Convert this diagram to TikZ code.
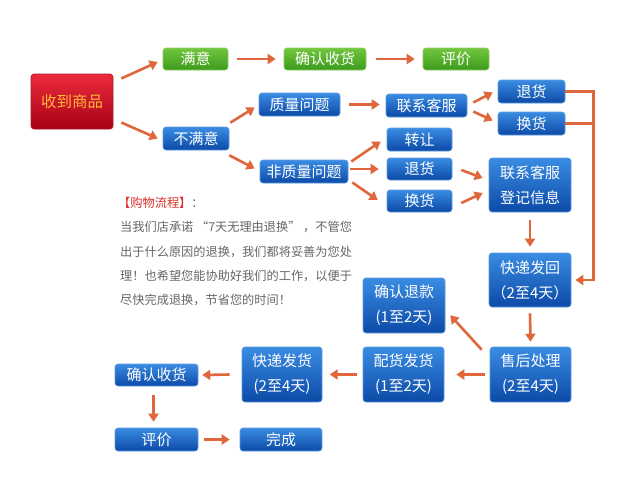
\documentclass[tikz,border=0pt]{standalone}
\usepackage{fontspec}
\newfontfamily\cjk{Noto Sans CJK SC}
\usetikzlibrary{arrows.meta,calc}
\definecolor{btop}{HTML}{3A8CE2}
\definecolor{bbot}{HTML}{0C4AA8}
\definecolor{bdraw}{HTML}{5C9BE0}
\definecolor{gtop}{HTML}{72C63E}
\definecolor{gbot}{HTML}{3C9A1C}
\definecolor{gdraw}{HTML}{8CD060}
\definecolor{rtop}{HTML}{EC2A3C}
\definecolor{rbot}{HTML}{A80016}
\definecolor{rtext}{HTML}{FFB83A}
\definecolor{arrc}{HTML}{E0663C}
\definecolor{ptext}{HTML}{666666}
\definecolor{ptitle}{HTML}{D8302A}
\tikzset{
  basebox/.style={rounded corners=3pt, inner sep=0pt, align=center, line width=0.6pt,
    font=\cjk\fontsize{15}{25}\selectfont},
  bluebox/.style={basebox, top color=btop, bottom color=bbot, draw=bdraw, text=white},
  greenbox/.style={basebox, top color=gtop, bottom color=gbot, draw=gdraw, text=white},
  redbox/.style={basebox, top color=rtop, bottom color=rbot, draw=rtop!70!black, text=rtext,
    font=\cjk\fontsize{15.5}{18}\selectfont},
  arr/.style={draw=arrc, line width=2.6pt, -{Triangle[length=8pt,width=10pt]}},
  brk/.style={draw=arrc, line width=2.6pt},
  para/.style={anchor=west, inner sep=0pt, text=ptext, font=\cjk\fontsize{12.2}{14}\selectfont}
}
\begin{document}
\begin{tikzpicture}[x=1pt,y=-1pt]
\useasboundingbox[fill=white] (0,0) rectangle (620,498);
% nodes
\node[redbox, minimum width=82pt, minimum height=55pt] (recv) at (72,101.5) {收到商品};
\node[greenbox, minimum width=65pt, minimum height=22pt] (sat) at (195.5,59) {满意};
\node[greenbox, minimum width=82pt, minimum height=22pt] (conf1) at (325,59) {确认收货};
\node[greenbox, minimum width=66pt, minimum height=22pt] (eval1) at (456,59) {评价};
\node[bluebox, minimum width=66pt, minimum height=23pt] (unsat) at (196,138.5) {不满意};
\node[bluebox, minimum width=81pt, minimum height=23pt] (qual) at (299.5,104.5) {质量问题};
\node[bluebox, minimum width=81pt, minimum height=23pt] (cs1) at (426.5,105.5) {联系客服};
\node[bluebox, minimum width=67pt, minimum height=23pt] (ret1) at (531.5,91.5) {退货};
\node[bluebox, minimum width=67pt, minimum height=23pt] (exc1) at (531.5,123.5) {换货};
\node[bluebox, minimum width=65pt, minimum height=23pt] (trans) at (419.5,139.5) {转让};
\node[bluebox, minimum width=88pt, minimum height=23pt] (nonq) at (304,171.5) {非质量问题};
\node[bluebox, minimum width=65pt, minimum height=22pt] (ret2) at (419.5,169) {退货};
\node[bluebox, minimum width=65pt, minimum height=22pt] (exc2) at (419.5,201) {换货};
\node[bluebox, minimum width=82pt, minimum height=54pt] (cs2) at (530,185) {联系客服\\登记信息};
\node[bluebox, minimum width=82pt, minimum height=54pt] (exp1) at (530,280) {快递发回\\（2至4天）};
\node[bluebox, minimum width=82pt, minimum height=55pt] (refund) at (404,305.5) {确认退款\\(1至2天)};
\node[bluebox, minimum width=81pt, minimum height=55pt] (after) at (530.5,374.5) {售后处理\\(2至4天)};
\node[bluebox, minimum width=81pt, minimum height=55pt] (dist) at (403.5,374.5) {配货发货\\(1至2天)};
\node[bluebox, minimum width=80pt, minimum height=55pt] (exp2) at (282,374.5) {快递发货\\(2至4天)};
\node[bluebox, minimum width=83pt, minimum height=22pt] (conf2) at (156.5,375) {确认收货};
\node[bluebox, minimum width=83pt, minimum height=23pt] (eval2) at (156.5,439.5) {评价};
\node[bluebox, minimum width=82pt, minimum height=23pt] (done) at (281,439.5) {完成};
% paragraph
\node[para] (p0) at (118,203) {\textcolor{ptitle}{【购物流程】}：};
\node[para] (p1) at (120,227) {当我们店承诺 “7天无理由退换” ，不管您};
\node[para] (p2) at (120,252) {出于什么原因的退换，我们都将妥善为您处};
\node[para] (p3) at (120,276) {理！也希望您能协助好我们的工作，以便于};
\node[para] (p4) at (120,300) {尽快完成退换，节省您的时间！};
% arrows
\draw[arr] ($(recv.east)+(8,-23)$) -- ($(sat.west)+(-5,3)$);
\draw[arr] ($(recv.east)+(8,21)$) -- ($(unsat.west)+(-5,0)$);
\draw[arr] ($(sat.east)+(9,0)$) -- ($(conf1.west)+(-8,0)$);
\draw[arr] ($(conf1.east)+(10,0)$) -- ($(eval1.west)+(-8,0)$);
\draw[arr] ($(unsat.north east)+(1,-4)$) -- ($(qual.west)+(-4,3)$);
\draw[arr] ($(unsat.south east)+(0,5)$) -- ($(nonq.west)+(-5,-3)$);
\draw[arr] ($(qual.east)+(9,0)$) -- ($(cs1.west)+(-6,-1)$);
\draw[arr] ($(cs1.east)+(6,-3)$) -- ($(ret1.west)+(-5,1)$);
\draw[arr] ($(cs1.east)+(6,6)$) -- ($(exc1.west)+(-5,-3)$);
\draw[arr] ($(nonq.east)+(3,-10)$) -- ($(trans.west)+(-6,2)$);
\draw[arr] ($(nonq.east)+(2,-2.5)$) -- ($(ret2.west)+(-8,0)$);
\draw[arr] ($(nonq.east)+(4,11)$) -- ($(exc2.west)+(-9,-1)$);
\draw[arr] ($(ret2.east)+(9,1)$) -- ($(cs2.west)+(-6,-7)$);
\draw[arr] ($(exc2.east)+(9,2)$) -- ($(cs2.west)+(-6,8)$);
\draw[arr] ($(cs2.south)+(0,8)$) -- ($(exp1.north)+(0,-6)$);
\coordinate (bt) at ($(ret1.east)+(28,0)$);
\coordinate (bb) at ($(exc1.east)+(28,0)$);
\draw[brk] (ret1.east) -- (bt);
\draw[brk] (exc1.east) -- (bb);
\draw[arr, rounded corners=0pt] ($(bt)+(0,-1.3)$) -- (bt |- exp1.east) -- ($(exp1.east)+(4,0)$);
\draw[arr] ($(exp1.south)+(0,6)$) -- ($(after.north)+(0,-5)$);
\draw[arr] ($(after.north west)+(-8,3)$) -- ($(refund.south east)+(5,-18)$);
\draw[arr] ($(after.west)+(-5,0)$) -- ($(dist.east)+(12,0)$);
\draw[arr] ($(dist.west)+(-6,0)$) -- ($(exp2.west)+(88,0)$);
\draw[arr] ($(exp2.west)+(-12,0)$) -- ($(conf2.east)+(4,0)$);
\draw[arr] ($(conf2.south)+(-3,9)$) -- ($(eval2.north)+(-3,-6)$);
\draw[arr] ($(eval2.east)+(6,0)$) -- ($(done.west)+(-10,0)$);
\end{tikzpicture}
\end{document}
